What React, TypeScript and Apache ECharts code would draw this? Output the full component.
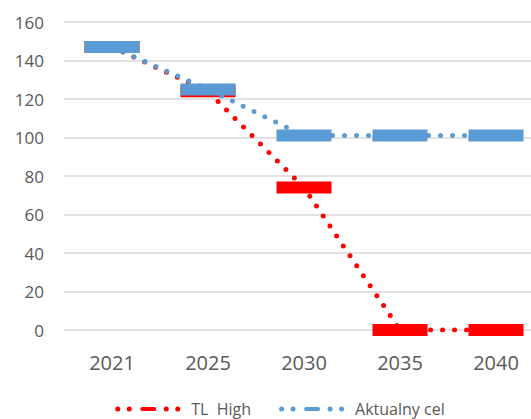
import React, { useEffect, useRef } from "react";
import * as echarts from "echarts";

const categories = ["2021", "2025", "2030", "2035", "2040"];
const tlHigh = [147, 124, 74, 0, 0];
const aktualnyCel = [147, 125, 101, 101, 101];
const seriesNames = ["TL  High", "Aktualny cel"];

const dot = (cx: number) => `M${cx - 2.5},2.5a2.5,2.5 0 1,0 5,0a2.5,2.5 0 1,0 -5,0Z`;
const legendIcon =
  "path://" + dot(2.5) + dot(14) + "M27,0.5h12a2,2 0 0,1 0,4h-12a2,2 0 0,1 0,-4Z" + dot(51) + dot(62.5);

export default function App() {
  const ref = useRef<HTMLDivElement>(null);
  useEffect(() => {
    const chart = echarts.init(ref.current!, null, { renderer: "svg" });
    const font = "Open Sans, Noto Sans, sans-serif";
    const mk = (name: string, data: number[], color: string) => ({
      name,
      type: "line",
      data,
      symbol: "rect",
      symbolSize: [55, 12],
      itemStyle: { color },
      lineStyle: { color, width: 5, type: [0, 12], cap: "round" },
      z: name === seriesNames[1] ? 3 : 2,
    });
    chart.setOption({
      animation: false,
      backgroundColor: "#fff",
      grid: { left: 64, top: 22, width: 480, height: 308 },
      xAxis: {
        type: "category",
        data: categories,
        axisLine: { show: false },
        axisTick: { show: false },
        axisLabel: { color: "#595959", fontSize: 20, fontFamily: font, margin: 22 },
      },
      yAxis: {
        type: "value",
        min: 0,
        max: 160,
        interval: 20,
        axisLine: { show: false },
        axisTick: { show: false },
        axisLabel: { color: "#595959", fontSize: 17, fontFamily: font, margin: 20 },
        splitLine: { lineStyle: { color: "#d9d9d9", width: 1.5 } },
      },
      legend: {
        top: 396,
        left: "center",
        itemWidth: 65,
        itemHeight: 5,
        itemGap: 28,
        textStyle: { color: "#595959", fontSize: 16, fontFamily: font, padding: [0, 0, 0, 6] },
        data: seriesNames.map((name) => ({ name, icon: legendIcon })),
      },
      series: [mk(seriesNames[0], tlHigh, "#ff0000"), mk(seriesNames[1], aktualnyCel, "#5b9bd5")],
    });
    return () => chart.dispose();
  }, []);
  return (
    <div
      ref={ref}
      style={{ position: "fixed", left: 0, top: 0, width: 560, height: 419 }}
    />
  );
}
